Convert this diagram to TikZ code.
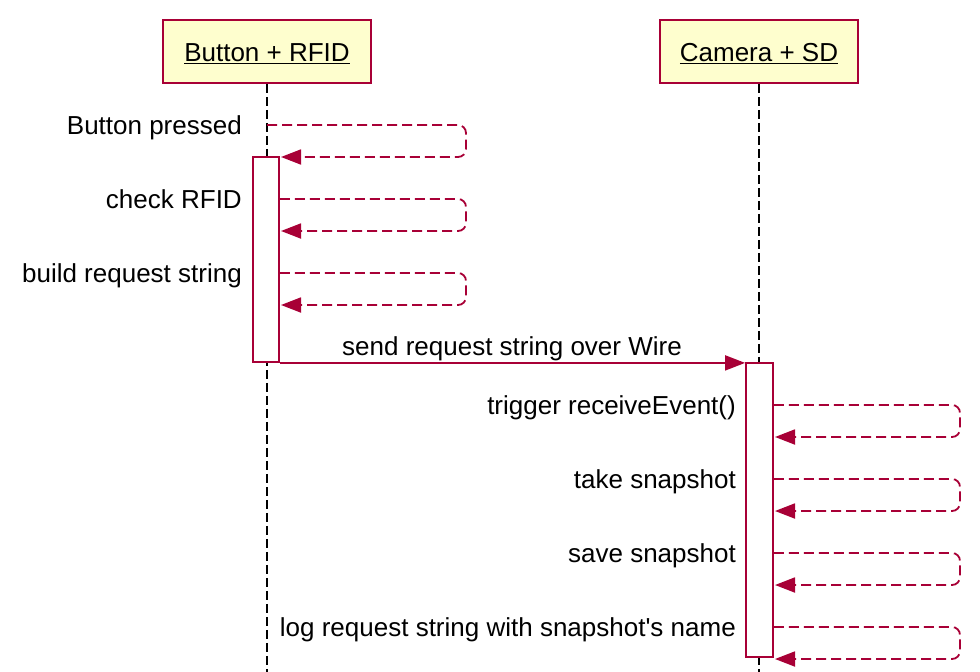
\documentclass[tikz,border=0pt]{standalone}
\usepackage{fontspec}
\setmainfont{Liberation Sans}
\usetikzlibrary{arrows.meta}
\definecolor{pumlred}{HTML}{A80036}
\definecolor{pumlfill}{HTML}{FEFECE}
\begin{document}
\begin{tikzpicture}[x=1pt,y=-1pt,
  head/.style={draw=pumlred, fill=pumlfill, line width=1.8pt, minimum height=63pt, inner sep=0pt, text height=25pt, text depth=5pt, font=\fontsize{26}{30}\selectfont},
  act/.style={draw=pumlred, fill=white, line width=1.8pt, inner sep=0pt},
  lifeline/.style={black, line width=1.8pt, dash pattern=on 9pt off 4pt},
  tip/.style={-{Triangle[length=20pt,width=15pt]}},
  selfmsg/.style={pumlred, line width=1.8pt, dash pattern=on 10pt off 5pt, rounded corners=8pt, tip},
  msg/.style={pumlred, line width=1.8pt, tip},
  lbl/.style={inner sep=0pt, font=\fontsize{26}{30}\selectfont}]
\useasboundingbox (0,0) rectangle (980,672);
% participants
\node[head, minimum width=208pt] (A) at (267,51.5) {\underline{Button + RFID}};
\node[head, minimum width=198pt] (B) at (759,51.5) {\underline{Camera + SD}};
\coordinate (Aend) at (267,672);
\coordinate (Bend) at (759,672);
\draw[lifeline] (A.south) -- (Aend);
\draw[lifeline] (B.south) -- (Bend);
% activations
\node[act, minimum width=26pt, minimum height=205pt] (actA) at (266,259.5) {};
\node[act, minimum width=27pt, minimum height=294pt] (actB) at (759.5,510) {};
% left self messages
\draw[selfmsg] (267,125) -- (466,125) -- (466,157) -- (281,157);
\node[lbl, anchor=base east] (l1) at (242,134) {Button pressed};
\draw[selfmsg] (actA.east |- 0,199) -- (466,199) -- (466,231) -- (281,231);
\node[lbl, anchor=base east] (l2) at (242,208) {check RFID};
\draw[selfmsg] (actA.east |- 0,273) -- (466,273) -- (466,305) -- (281,305);
\node[lbl, anchor=base east] (l3) at (242,282) {build request string};
% send
\draw[msg] (actA.south east) -- (actA.south east -| actB.west);
\node[lbl, anchor=base] (l4) at (512,355) {send request string over Wire};
% right self messages
\foreach \y/\t [count=\i] in {405/{trigger receiveEvent()},479/{take snapshot},553/{save snapshot},627/{log request string with snapshot\textquotesingle s name}}{
  \draw[selfmsg] (actB.east |- 0,\y) -- (960,\y) -- (960,\y+32) -- (775,\y+32);
  \node[lbl, anchor=base east] (r\i) at (736,\y+9) {\t};
}
\end{tikzpicture}
\end{document}
